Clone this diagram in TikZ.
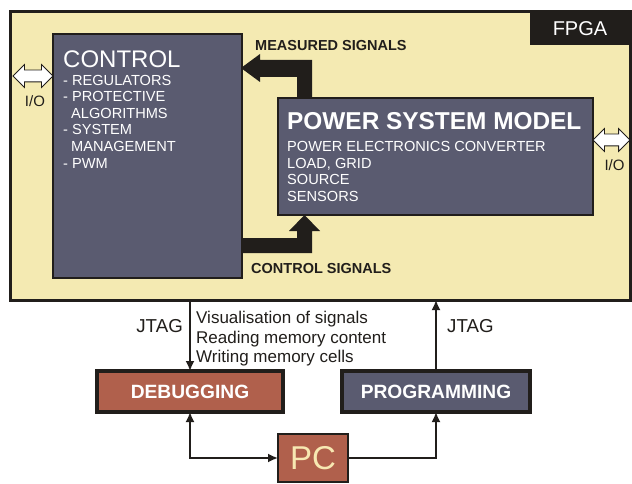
\documentclass[tikz,border=0pt]{standalone}
\usepackage{fontspec}
\setmainfont{Liberation Sans}
\usetikzlibrary{arrows.meta,shapes.arrows,calc}
\definecolor{fpgabg}{RGB}{244,234,178}
\definecolor{slate}{RGB}{90,91,112}
\definecolor{brick}{RGB}{176,96,76}
\definecolor{ink}{RGB}{33,30,27}
\definecolor{pcyel}{RGB}{247,232,178}
\begin{document}
\begin{tikzpicture}[x=1pt,y=-1pt,
  box/.style={draw=ink, line width=1.5pt, fill=slate, inner sep=0, outer sep=0},
  btmbox/.style={draw=ink, line width=4pt, inner sep=0, outer sep=0, text=white,
     font=\fontsize{19.2}{23}\selectfont\bfseries},
  wtxt/.style={anchor=base west, inner sep=0, text=white, font=\fontsize{14.6}{17}\selectfont},
  btxt/.style={anchor=base west, inner sep=0, text=ink, font=\fontsize{14.5}{17}\selectfont\bfseries},
  ktxt/.style={inner sep=0, text=ink},
  ioarr/.style={double arrow, draw=ink, line width=0.8pt, fill=white, inner xsep=0pt,
     inner ysep=5.5pt, minimum width=22pt, double arrow head extend=5.5pt, outer sep=0},
  conn/.style={draw=ink, line width=1.8pt, -{Latex[length=10pt,width=9pt]}},
  conn2/.style={draw=ink, line width=1.8pt, {Latex[length=10pt,width=9pt]}-{Latex[length=10pt,width=9pt]}}
]
\useasboundingbox (0,0) rectangle (632,484);
\fill[white] (0,0) rectangle (632,484);

% FPGA frame
\node[draw=ink, line width=3pt, fill=fpgabg, inner sep=0, outer sep=0,
      minimum width=620.5pt, minimum height=288.5pt, anchor=north west] (fpga) at (10,11.5) {};
\node[fill=ink, inner sep=0, outer sep=0, minimum width=100pt, minimum height=32pt,
      anchor=north east, text=white, font=\fontsize{20}{24}\selectfont] (fpgalab) at (630,13) {FPGA};

% CONTROL block
\node[box, minimum width=189pt, minimum height=244pt, anchor=north west] (ctrl) at (53,34) {};
\node[wtxt, font=\fontsize{24}{28}\selectfont] (ct0) at (63,68) {CONTROL};
\node[wtxt] (ct1) at (63,86) {- REGULATORS};
\node[wtxt] (ct2) at (63,102) {- PROTECTIVE};
\node[wtxt] (ct3) at (71,119) {ALGORITHMS};
\node[wtxt] (ct4) at (63,135) {- SYSTEM};
\node[wtxt] (ct5) at (71,152) {MANAGEMENT};
\node[wtxt] (ct6) at (63,168) {- PWM};

% POWER SYSTEM MODEL block
\node[box, minimum width=315pt, minimum height=117pt, anchor=north west] (psm) at (278,98) {};
\node[wtxt, font=\fontsize{24.4}{28}\selectfont\bfseries] (ps0) at (287,130) {POWER SYSTEM MODEL};
\node[wtxt] (ps1) at (287,152) {POWER ELECTRONICS CONVERTER};
\node[wtxt] (ps2) at (287,168) {LOAD, GRID};
\node[wtxt] (ps3) at (287,185) {SOURCE};
\node[wtxt] (ps4) at (287,201) {SENSORS};

% thick signal arrows
\fill[ink] (312,98) -- (312,60) -- (260,60) -- (260,54) -- (241,68) -- (260,82)
      -- (260,77) -- (297,77) -- (297,98) -- cycle;
\fill[ink] (241,238) -- (297,238) -- (297,231) -- (289,231) -- (304.5,215) -- (320,231)
      -- (312,231) -- (312,253) -- (241,253) -- cycle;
\node[btxt] (mlab) at (255,51) {MEASURED SIGNALS};
\node[btxt] (clab) at (251,273) {CONTROL SIGNALS};

% I/O arrows
\node[ioarr, minimum height=40pt] (ioL) at (33,76) {};
\node[ktxt, anchor=base, font=\fontsize{15}{18}\selectfont] (ioLt) at (35,107) {I/O};
\node[ioarr, minimum height=37pt] (ioR) at (611.5,140) {};
\node[ktxt, anchor=base, font=\fontsize{15}{18}\selectfont] (ioRt) at (614.5,171) {I/O};

% bottom blocks
\node[btmbox, fill=brick, minimum width=186pt, minimum height=41pt] (dbg) at (190,391.5) {DEBUGGING};
\node[btmbox, fill=slate, minimum width=188pt, minimum height=41pt] (prog) at (436,391.5) {PROGRAMMING};
\node[draw=ink, line width=2pt, fill=brick, inner sep=0, outer sep=0, minimum width=70pt,
      minimum height=48pt, text=pcyel, font=\fontsize{33}{38}\selectfont] (pc) at (313,458) {PC};

% bottom labels
\node[ktxt, anchor=base east, font=\fontsize{18.7}{22}\selectfont] (jtagL) at (183,332) {JTAG};
\node[ktxt, anchor=base west, font=\fontsize{18.7}{22}\selectfont] (jtagR) at (447,332) {JTAG};
\node[ktxt, anchor=base west, font=\fontsize{17}{20}\selectfont] (v1) at (196,323) {Visualisation of signals};
\node[ktxt, anchor=base west, font=\fontsize{17}{20}\selectfont] (v2) at (196,343) {Reading memory content};
\node[ktxt, anchor=base west, font=\fontsize{17}{20}\selectfont] (v3) at (196,362) {Writing memory cells};

% connectors
\draw[conn] (dbg.north |- fpga.south) -- (dbg.north);
\draw[conn] (prog.north) -- (prog.north |- fpga.south);
\draw[conn2] (dbg.south) |- (pc.west);
\draw[conn] (pc.east) -| (prog.south);
\end{tikzpicture}
\end{document}
